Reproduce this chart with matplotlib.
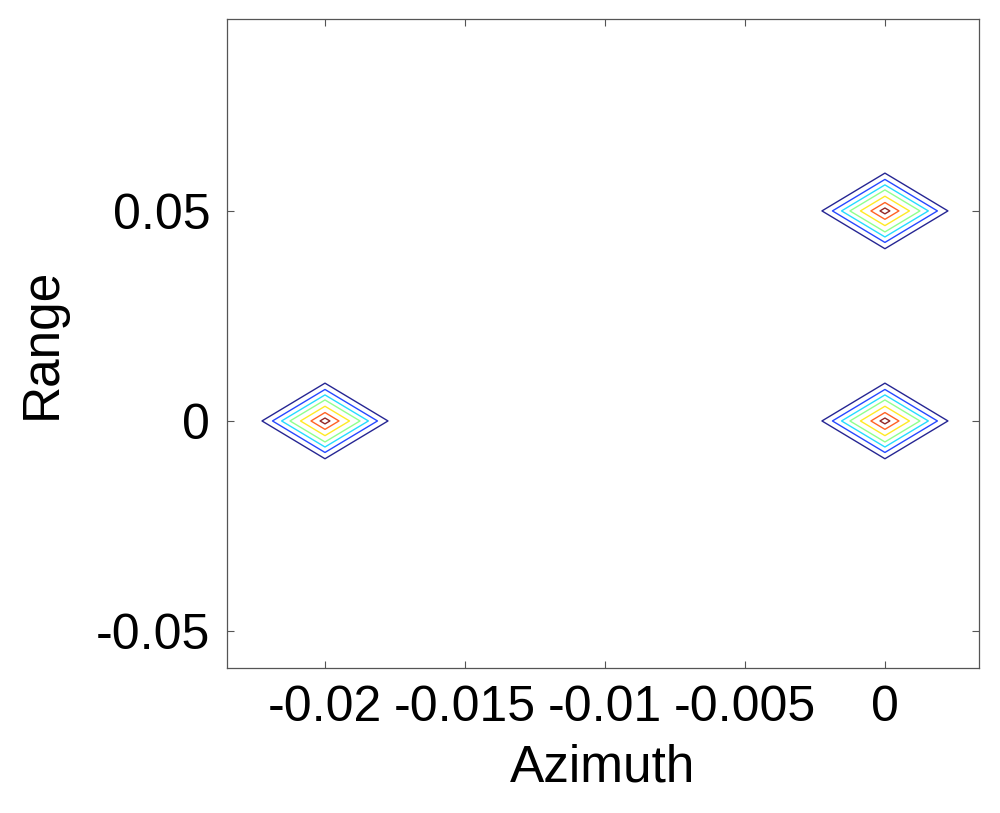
import numpy as np
import matplotlib
matplotlib.use("Agg")
import matplotlib.pyplot as plt

# Targets (azimuth, range) and amplitude
target_azimuth = [-0.02, 0.0, 0.0]
target_range = [0.0, 0.0, 0.05]
target_amplitude = [1.0, 1.0, 1.0]

# Sampling grid of the image
azimuth_axis = np.round(np.arange(-0.0250, 0.0051, 0.0025), 6)
range_axis = np.round(np.arange(-0.06, 0.1001, 0.01), 6)

# Contour levels (fraction of peak)
levels = [0.1, 0.25, 0.38, 0.5, 0.65, 0.8, 0.93]

xticks = [-0.02, -0.015, -0.01, -0.005, 0]
xtick_labels = ["-0.02", "-0.015", "-0.01", "-0.005", "0"]
yticks = [-0.05, 0, 0.05]
ytick_labels = ["-0.05", "0", "0.05"]

Z = np.zeros((len(range_axis), len(azimuth_axis)))
for a, r, amp in zip(target_azimuth, target_range, target_amplitude):
    i = int(np.argmin(np.abs(range_axis - r)))
    j = int(np.argmin(np.abs(azimuth_axis - a)))
    Z[i, j] = amp

plt.rcParams['font.family'] = ['Liberation Sans', 'DejaVu Sans']
plt.rcParams['axes.unicode_minus'] = False

fig = plt.figure(figsize=(10, 8.13), dpi=100)
ax = fig.add_axes([0.227, 0.1784, 0.752, 0.7983])
A, R = np.meshgrid(azimuth_axis, range_axis)
cmap = plt.get_cmap('jet')
colors = [cmap(k / (len(levels) - 1)) for k in range(len(levels))]
ax.contour(A, R, Z, levels=levels, colors=colors, linewidths=1.0, alpha=0.85)

ax.set_xlim(-0.0235, 0.00336)
ax.set_ylim(-0.0588, 0.0957)
ax.set_xticks(xticks)
ax.set_xticklabels(xtick_labels)
ax.set_yticks(yticks)
ax.set_yticklabels(ytick_labels)
ax.tick_params(direction='in', length=5, width=0.8, colors='#555555',
               labelcolor='black', labelsize=36, top=True, right=True, pad=12)
for s in ax.spines.values():
    s.set_color('#555555')
    s.set_linewidth(0.9)
ax.set_xlabel('Azimuth', fontsize=37, labelpad=9)
ax.set_ylabel('Range', fontsize=37, labelpad=21)

fig.savefig('out.png', dpi=100)
